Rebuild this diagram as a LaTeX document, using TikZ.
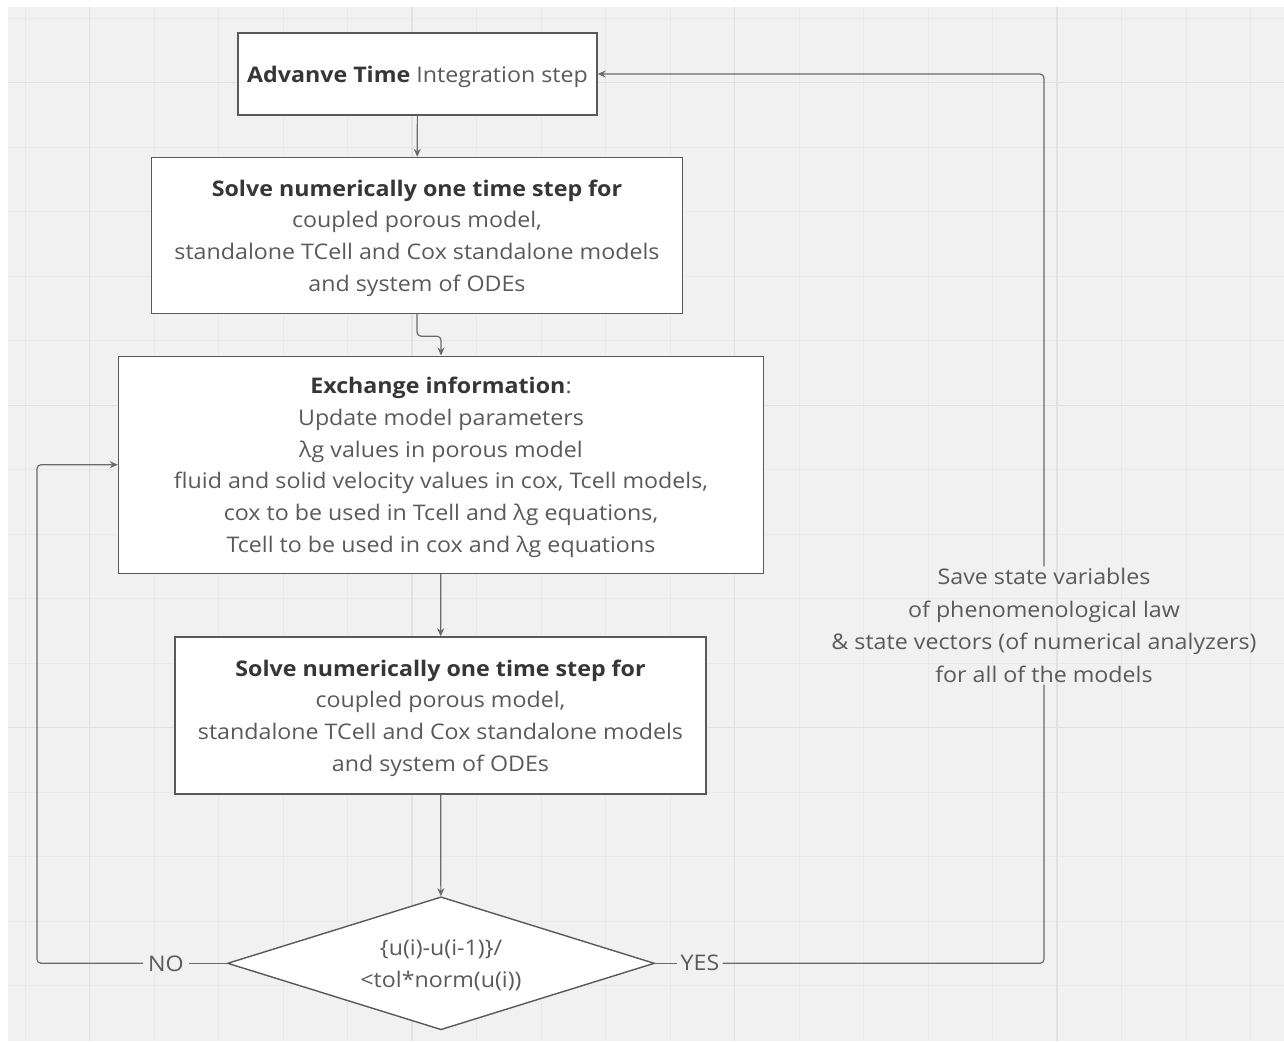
\documentclass[tikz,border=0pt]{standalone}
\usepackage{fontspec}
\setmainfont[FakeStretch=1.08]{Open Sans}
\usetikzlibrary{arrows.meta, positioning, shapes.geometric}

\definecolor{boardbg}{HTML}{F1F1F1}
\definecolor{gridminor}{HTML}{E9E9E9}
\definecolor{gridmajor}{HTML}{E1E1E1}
\definecolor{boxline}{HTML}{595959}
\definecolor{linkline}{HTML}{6A6A6A}
\definecolor{boldtext}{HTML}{363636}
\definecolor{plaintext}{HTML}{5A5A5A}

\begin{document}
\begin{tikzpicture}[x=1pt, y=-1pt]
	\useasboundingbox (0,0) rectangle (1284,1041);
	\fill[white] (0,0) rectangle (1284,1041);
	\fill[boardbg] (8,7) rectangle (1284,1041);
	\foreach \k in {0,...,19} \draw[gridminor, line width=1pt] ({25+64.5*\k},7) -- ({25+64.5*\k},1041);
	\foreach \k in {0,...,15} \draw[gridminor, line width=1pt] (8,{18.3+64.5*\k}) -- (1284,{18.3+64.5*\k});
	\foreach \k in {1,6,11,16} \draw[gridmajor, line width=1.2pt] ({25+64.5*\k},7) -- ({25+64.5*\k},1041);
	\foreach \k in {1,6,11} \draw[gridmajor, line width=1.2pt] (8,{18.3+64.5*\k}) -- (1284,{18.3+64.5*\k});

	% define the styles of boxes, labels and links
	\tikzstyle{stage box} = [draw=boxline, line width=1.4pt, fill=white, align=center, text=plaintext, inner sep=0pt, text depth=0pt, font=\fontsize{21.5}{31.7}\selectfont]
	\tikzstyle{check box} = [stage box, diamond, aspect=3.2]
	\tikzstyle{link label} = [text=plaintext, align=center, inner sep=5pt, font=\fontsize{21.5}{32.5}\selectfont]
	\tikzstyle{link} = [draw=linkline, line width=1.2pt]
	\tikzstyle{link arrow} = [link, -{Stealth[length=8pt, width=7pt]}]
	\newcommand{\hd}[1]{{\color{boldtext}\bfseries #1}}

	\node (advance) at (417.5,74) [stage box, minimum width=359, minimum height=82] {\hd{Advanve Time} Integration step};
	\node (solveA) at (417,235.5) [stage box, minimum width=531, minimum height=156] {\hd{Solve numerically one time step for}\\ coupled porous model,\\ standalone TCell and Cox standalone models\\ and system of ODEs};
	\node (exchange) at (441,464.7) [stage box, minimum width=645, minimum height=217] {\hd{Exchange information}:\\ Update model parameters\\ λg values in porous model\\ fluid and solid velocity values in cox, Tcell models,\\ cox to be used in Tcell and λg equations,\\ Tcell to be used in cox and λg equations};
	\node (solveB) at (440.5,715.5) [stage box, minimum width=531, minimum height=157] {\hd{Solve numerically one time step for}\\ coupled porous model,\\ standalone TCell and Cox standalone models\\ and system of ODEs};
	\node (check) at (441,963.3) [check box, minimum width=427, minimum height=133] {\{u(i)-u(i-1)\}/\\ <tol*norm(u(i))};

	\node (no) at (166,963.3) [link label] {NO};
	\node (yes) at (700,963.3) [link label, inner sep=3pt] {YES};
	\node (save) at (1044,625.5) [link label, inner sep=2pt] {Save state variables\\ of phenomenological law\\ \& state vectors (of numerical analyzers)\\ for all of the models};
	\coordinate (noturn) at (37,963.3);
	\coordinate (yesturn) at (1044,963.3);

	\draw[link arrow] (advance) -- (solveA);
	\draw[link arrow, rounded corners=4pt] (solveA.south) -- ++(0,22) -| (exchange.north);
	\draw[link arrow] (exchange) -- (solveB);
	\draw[link arrow] (solveB) -- (check);
	\draw[link] (check.west) -- (no.east);
	\draw[link arrow, rounded corners=4pt] (no.west) -- (noturn) |- (exchange.west);
	\draw[link] (check.east) -- (yes.west);
	\draw[link, rounded corners=4pt] (yes.east) -- (yesturn) -- (save.south);
	\draw[link arrow, rounded corners=4pt] (save.north) |- (advance.east);
\end{tikzpicture}
\end{document}
